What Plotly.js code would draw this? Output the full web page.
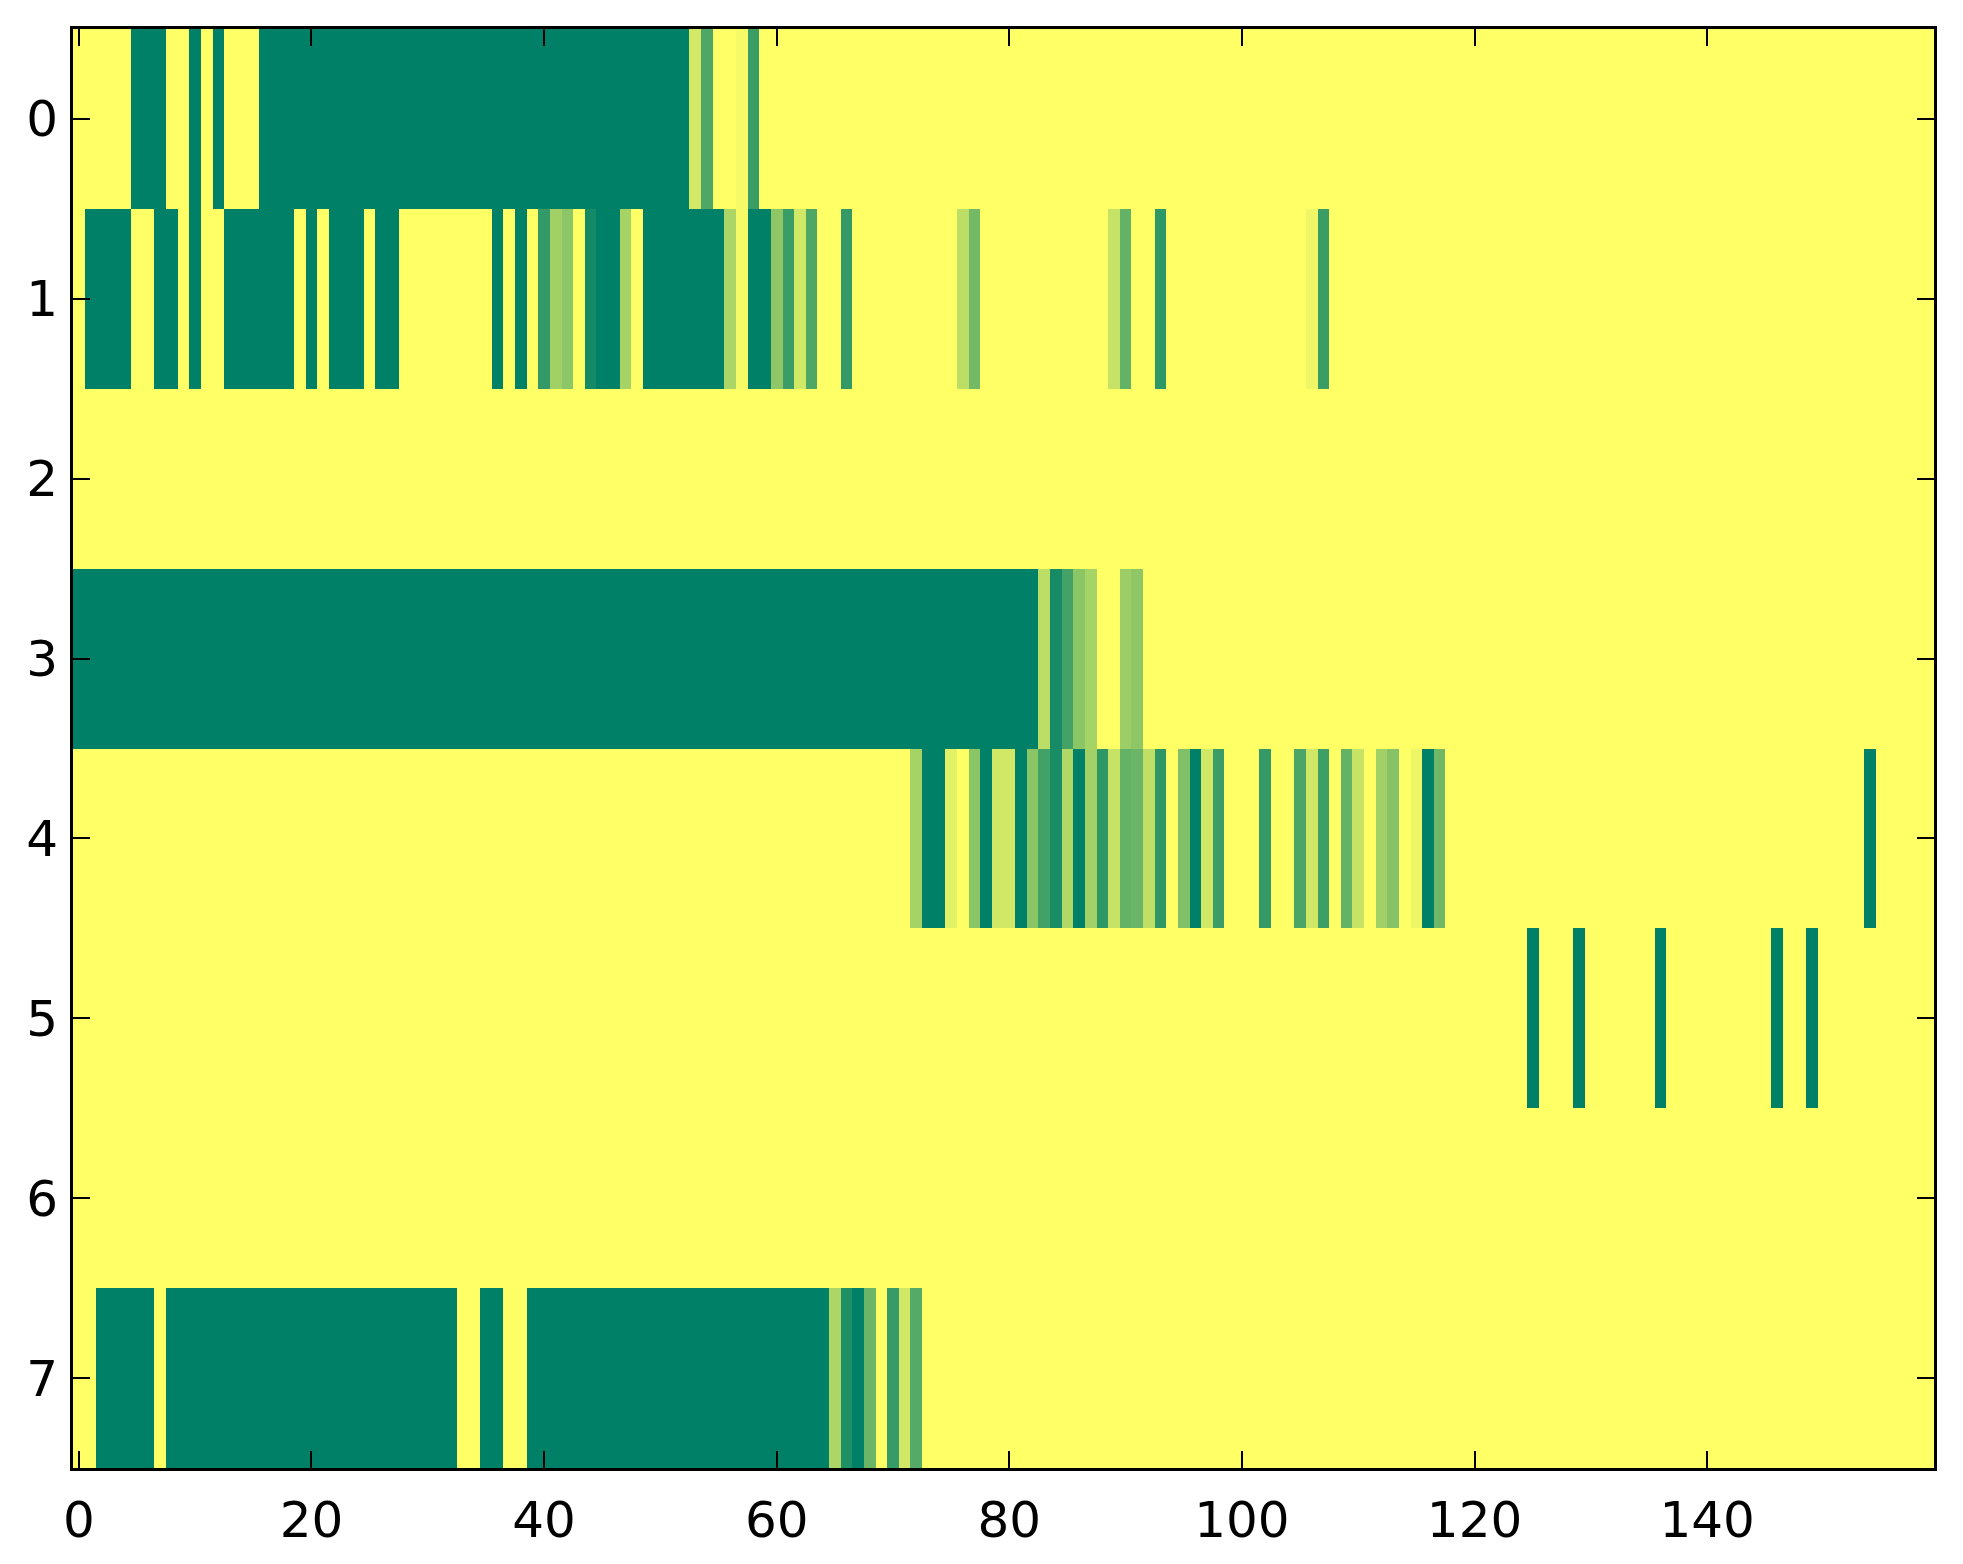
<!DOCTYPE html>
<html>
<head>
<meta charset="utf-8">
<script src="https://cdn.plot.ly/plotly-3.0.1.min.js"></script>
<style>html,body{margin:0;padding:0;background:#fff;}#chart{width:1963px;height:1564px;}</style>
</head>
<body>
<div id="chart"></div>
<script>
// Row labels (y) and column indices (x)
const rowLabels = [0, 1, 2, 3, 4, 5, 6, 7];
const xTickVals = [0, 20, 40, 60, 80, 100, 120, 140];
const yTickVals = [0, 1, 2, 3, 4, 5, 6, 7];

// Each row has 160 values (cols 0..159), 20 per line
const row0 = [
  0,0,0,0,0,1,1,1,0,0,1,0,1,0,0,0,1,1,1,1,
  1,1,1,1,1,1,1,1,1,1,1,1,1,1,1,1,1,1,1,1,
  1,1,1,1,1,1,1,1,1,1,1,1,1,0.17,0.69,0,0,0.04,0.77,0,
  0,0,0,0,0,0,0,0,0,0,0,0,0,0,0,0,0,0,0,0,
  0,0,0,0,0,0,0,0,0,0,0,0,0,0,0,0,0,0,0,0,
  0,0,0,0,0,0,0,0,0,0,0,0,0,0,0,0,0,0,0,0,
  0,0,0,0,0,0,0,0,0,0,0,0,0,0,0,0,0,0,0,0,
  0,0,0,0,0,0,0,0,0,0,0,0,0,0,0,0,0,0,0,0
];
const row1 = [
  0,1,1,1,1,0,0,1,1,0,1,0,0,1,1,1,1,1,1,0,
  1,0,1,1,1,0,1,1,0,0,0,0,0,0,0,0,1,0,1,0,
  0.8,0.37,0.45,0,0.92,1,1,0.35,0,1,1,1,1,1,1,1,0.33,0.04,1,1,
  0.44,0.77,0.18,0.69,0,0,0.8,0,0,0,0,0,0,0,0,0,0.26,0.55,0,0,
  0,0,0,0,0,0,0,0,0,0.22,0.61,0,0,0.82,0,0,0,0,0,0,
  0,0,0,0,0,0,0.06,0.77,0,0,0,0,0,0,0,0,0,0,0,0,
  0,0,0,0,0,0,0,0,0,0,0,0,0,0,0,0,0,0,0,0,
  0,0,0,0,0,0,0,0,0,0,0,0,0,0,0,0,0,0,0,0
];
const row2 = [
  0,0,0,0,0,0,0,0,0,0,0,0,0,0,0,0,0,0,0,0,
  0,0,0,0,0,0,0,0,0,0,0,0,0,0,0,0,0,0,0,0,
  0,0,0,0,0,0,0,0,0,0,0,0,0,0,0,0,0,0,0,0,
  0,0,0,0,0,0,0,0,0,0,0,0,0,0,0,0,0,0,0,0,
  0,0,0,0,0,0,0,0,0,0,0,0,0,0,0,0,0,0,0,0,
  0,0,0,0,0,0,0,0,0,0,0,0,0,0,0,0,0,0,0,0,
  0,0,0,0,0,0,0,0,0,0,0,0,0,0,0,0,0,0,0,0,
  0,0,0,0,0,0,0,0,0,0,0,0,0,0,0,0,0,0,0,0
];
const row3 = [
  1,1,1,1,1,1,1,1,1,1,1,1,1,1,1,1,1,1,1,1,
  1,1,1,1,1,1,1,1,1,1,1,1,1,1,1,1,1,1,1,1,
  1,1,1,1,1,1,1,1,1,1,1,1,1,1,1,1,1,1,1,1,
  1,1,1,1,1,1,1,1,1,1,1,1,1,1,1,1,1,1,1,1,
  1,1,1,0.26,0.91,0.73,0.46,0.35,0,0,0.39,0.44,0,0,0,0,0,0,0,0,
  0,0,0,0,0,0,0,0,0,0,0,0,0,0,0,0,0,0,0,0,
  0,0,0,0,0,0,0,0,0,0,0,0,0,0,0,0,0,0,0,0,
  0,0,0,0,0,0,0,0,0,0,0,0,0,0,0,0,0,0,0,0
];
const row4 = [
  0,0,0,0,0,0,0,0,0,0,0,0,0,0,0,0,0,0,0,0,
  0,0,0,0,0,0,0,0,0,0,0,0,0,0,0,0,0,0,0,0,
  0,0,0,0,0,0,0,0,0,0,0,0,0,0,0,0,0,0,0,0,
  0,0,0,0,0,0,0,0,0,0,0,0,0.35,1,1,0.11,0,0.46,1,0.18,
  0.18,1,0.46,0.74,0.9,0.31,1,0.36,0.82,0.22,0.61,0.58,0.25,0.82,0,0.5,1,0.18,0.77,0,
  0,0,0.8,0,0,0.71,0.18,0.76,0,0.61,0.22,0,0.37,0.47,0,0.07,1,0.56,0,0,
  0,0,0,0,0,0,0,0,0,0,0,0,0,0,0,0,0,0,0,0,
  0,0,0,0,0,0,0,0,0,0,0,0,0,0,1,0,0,0,0,0
];
const row5 = [
  0,0,0,0,0,0,0,0,0,0,0,0,0,0,0,0,0,0,0,0,
  0,0,0,0,0,0,0,0,0,0,0,0,0,0,0,0,0,0,0,0,
  0,0,0,0,0,0,0,0,0,0,0,0,0,0,0,0,0,0,0,0,
  0,0,0,0,0,0,0,0,0,0,0,0,0,0,0,0,0,0,0,0,
  0,0,0,0,0,0,0,0,0,0,0,0,0,0,0,0,0,0,0,0,
  0,0,0,0,0,0,0,0,0,0,0,0,0,0,0,0,0,0,0,0,
  0,0,0,0,0,1,0,0,0,1,0,0,0,0,0,0,1,0,0,0,
  0,0,0,0,0,0,1,0,0,1,0,0,0,0,0,0,0,0,0,0
];
const row6 = [
  0,0,0,0,0,0,0,0,0,0,0,0,0,0,0,0,0,0,0,0,
  0,0,0,0,0,0,0,0,0,0,0,0,0,0,0,0,0,0,0,0,
  0,0,0,0,0,0,0,0,0,0,0,0,0,0,0,0,0,0,0,0,
  0,0,0,0,0,0,0,0,0,0,0,0,0,0,0,0,0,0,0,0,
  0,0,0,0,0,0,0,0,0,0,0,0,0,0,0,0,0,0,0,0,
  0,0,0,0,0,0,0,0,0,0,0,0,0,0,0,0,0,0,0,0,
  0,0,0,0,0,0,0,0,0,0,0,0,0,0,0,0,0,0,0,0,
  0,0,0,0,0,0,0,0,0,0,0,0,0,0,0,0,0,0,0,0
];
const row7 = [
  0,0,1,1,1,1,1,0,1,1,1,1,1,1,1,1,1,1,1,1,
  1,1,1,1,1,1,1,1,1,1,1,1,1,0,0,1,1,0,0,1,
  1,1,1,1,1,1,1,1,1,1,1,1,1,1,1,1,1,1,1,1,
  1,1,1,1,1,0.32,0.88,1,0.58,0,0.79,0.18,0.67,0,0,0,0,0,0,0,
  0,0,0,0,0,0,0,0,0,0,0,0,0,0,0,0,0,0,0,0,
  0,0,0,0,0,0,0,0,0,0,0,0,0,0,0,0,0,0,0,0,
  0,0,0,0,0,0,0,0,0,0,0,0,0,0,0,0,0,0,0,0,
  0,0,0,0,0,0,0,0,0,0,0,0,0,0,0,0,0,0,0,0
];

const zRows = [row0, row1, row2, row3, row4, row5, row6, row7];
const colIndex = row0.map((_, i) => i);

const trace = {
  type: 'heatmap',
  z: zRows,
  x: colIndex,
  y: rowLabels,
  zmin: 0,
  zmax: 1,
  zsmooth: false,
  colorscale: [[0, '#ffff66'], [1, '#008066']],
  showscale: false,
  hoverinfo: 'skip'
};

const axisFont = {family: 'DejaVu Sans', size: 50, color: '#000'};

const layout = {
  width: 1963,
  height: 1564,
  margin: {l: 73, r: 29, t: 29, b: 96, pad: 0},
  paper_bgcolor: '#ffffff',
  plot_bgcolor: '#ffffff',
  showlegend: false,
  xaxis: {
    range: [-0.5, 159.5],
    tickvals: xTickVals,
    ticktext: xTickVals.map(String),
    ticks: 'inside',
    ticklen: 17,
    tickwidth: 2,
    tickcolor: '#000',
    showline: true,
    linecolor: '#000',
    linewidth: 3,
    mirror: 'allticks',
    showgrid: false,
    zeroline: false,
    tickfont: axisFont,
    ticklabelstandoff: 6
  },
  yaxis: {
    range: [7.5, -0.5],
    tickvals: yTickVals,
    ticktext: yTickVals.map(String),
    ticks: 'inside',
    ticklen: 17,
    tickwidth: 2,
    tickcolor: '#000',
    showline: true,
    linecolor: '#000',
    linewidth: 3,
    mirror: 'allticks',
    showgrid: false,
    zeroline: false,
    tickfont: axisFont,
    ticklabelstandoff: 2
  }
};

Plotly.newPlot('chart', [trace], layout, {staticPlot: true, displayModeBar: false});
</script>
</body>
</html>
